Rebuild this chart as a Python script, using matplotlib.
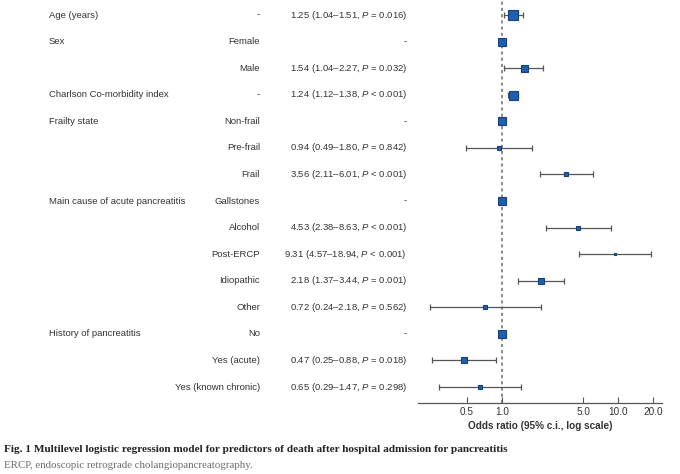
import matplotlib
matplotlib.use("Agg")
import matplotlib.pyplot as plt
from matplotlib.transforms import blended_transform_factory
import numpy as np

plt.rcParams['font.family'] = ['Liberation Sans', 'DejaVu Sans']
plt.rcParams['mathtext.fontset'] = 'custom'
plt.rcParams['mathtext.it'] = 'Liberation Sans:italic'
plt.rcParams['mathtext.rm'] = 'Liberation Sans'

# rows of the forest plot, top to bottom
categories = ["Age (years)", "Sex", "", "Charlson Co-morbidity index", "Frailty state", "", "",
              "Main cause of acute pancreatitis", "", "", "", "",
              "History of pancreatitis", "", ""]
levels = ["-", "Female", "Male", "-", "Non-frail", "Pre-frail", "Frail",
          "Gallstones", "Alcohol", "Post-ERCP", "Idiopathic", "Other",
          "No", "Yes (acute)", "Yes (known chronic)"]
odds = [1.25, 1.0, 1.54, 1.24, 1.0, 0.94, 3.56, 1.0, 4.53, 9.31, 2.18, 0.72, 1.0, 0.47, 0.65]
ci_low = [1.04, None, 1.04, 1.12, None, 0.49, 2.11, None, 2.38, 4.57, 1.37, 0.24, None, 0.25, 0.29]
ci_high = [1.51, None, 2.27, 1.38, None, 1.80, 6.01, None, 8.63, 18.94, 3.44, 2.18, None, 0.88, 1.47]
p_text = ["= 0.016", None, "= 0.032", "< 0.001", None, "= 0.842", "< 0.001", None,
          "< 0.001", "< 0.001", "= 0.001", "= 0.562", None, "= 0.018", "= 0.298"]
# relative weight of each estimate (box size)
weights = [9.5, 7.5, 7, 9, 8.5, 4, 4, 7.5, 5, 2.7, 5.7, 3.7, 8.7, 5.3, 4.3]
ticks = [0.5, 1.0, 5.0, 10.0, 20.0]

W, H = 680, 474
fig = plt.figure(figsize=(W / 100, H / 100), dpi=100)
ax = fig.add_axes([418 / W, (H - 403) / H, (662 - 418) / W, 403 / H])

n = len(levels)
y = np.arange(n)
ax.set_xscale('log')
ax.set_xlim(0.1898, 23.7)
ax.set_ylim(14.6, -0.565)

ax.axvline(1.0, color='#8a8a8a', lw=1.4, ls=(0, (1.6, 1.6)), zorder=1)

for i in range(n):
    if ci_low[i] is not None:
        ax.errorbar(odds[i], y[i], xerr=[[odds[i] - ci_low[i]], [ci_high[i] - odds[i]]],
                    fmt='none', ecolor='#555555', elinewidth=0.9, capsize=2.0, capthick=0.9, zorder=2)
    ax.plot(odds[i], y[i], marker='s', ms=weights[i] * 0.72, mfc='#1f5fad', mec='#173f78',
            mew=0.8, ls='none', zorder=3)

ax.set_xticks(ticks)
ax.set_xticklabels([f"{t:.1f}" for t in ticks])
ax.xaxis.set_minor_locator(matplotlib.ticker.NullLocator())
ax.tick_params(axis='x', direction='in', length=4, width=0.8, color='#555555',
               labelsize=7.2, labelcolor='#333333', pad=3)
ax.set_yticks([])
for s in ['top', 'right', 'left']:
    ax.spines[s].set_visible(False)
ax.spines['bottom'].set_color('#555555')
ax.spines['bottom'].set_linewidth(0.9)
ax.set_xlabel("Odds ratio (95% c.i., log scale)", fontsize=7.2, fontweight='bold',
              color='#333333', labelpad=3)
ax.patch.set_alpha(0)

tr = blended_transform_factory(fig.transFigure, ax.transData)
for i in range(n):
    if categories[i]:
        fig.text(49 / W, y[i], categories[i], transform=tr, ha='left', va='center',
                 fontsize=6.8, color='#333333')
    fig.text(260 / W, y[i], levels[i], transform=tr, ha='right', va='center',
             fontsize=6.8, color='#333333')
    if p_text[i] is None:
        est = "-"
    else:
        est = f"{odds[i]:.2f} ({ci_low[i]:.2f}\u2013{ci_high[i]:.2f}, $P$ {p_text[i]})"
    fig.text(407 / W, y[i], est, transform=tr, ha='right', va='center',
             fontsize=6.8, color='#333333')

fig.text(4 / W, 1 - 450 / H, "Fig. 1 Multilevel logistic regression model for predictors of death after hospital admission for pancreatitis",
         ha='left', va='center', fontsize=8.1, fontweight='bold', family='Liberation Serif', color='#222222')
fig.text(4 / W, 1 - 465 / H, "ERCP, endoscopic retrograde cholangiopancreatography.",
         ha='left', va='center', fontsize=7.8, family='Liberation Serif', color='#6b6b6b')

fig.savefig('out.png', dpi=100)
